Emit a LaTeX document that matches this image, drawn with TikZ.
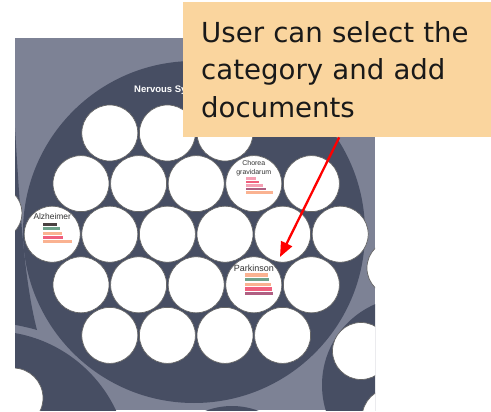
\documentclass[tikz,border=0pt]{standalone}
\usepackage{fontspec}
\usepackage{tikz}
\usetikzlibrary{arrows.meta}
\newfontfamily\notefont{DejaVu Sans}
\newfontfamily\tagfont{Liberation Sans}
\definecolor{panelgray}{RGB}{125,130,149}
\definecolor{pooldark}{RGB}{71,78,99}
\definecolor{notepeach}{RGB}{250,213,158}
\definecolor{notetext}{RGB}{25,25,25}
% bar colours
\definecolor{barbrown}{RGB}{75,65,65}
\definecolor{bargreen}{RGB}{110,162,138}
\definecolor{barpeach}{RGB}{250,178,145}
\definecolor{barrose}{RGB}{240,95,125}
\definecolor{barpink}{RGB}{245,160,180}
\definecolor{barmauve}{RGB}{175,95,130}

\begin{document}
\begin{tikzpicture}[x=1pt, y=-1pt,
    blob/.style={fill=white, draw=black!60, line width=0.7pt},
    bubble/.style={circle, blob, minimum size=56pt, inner sep=0pt},
    tag/.style={font=\tagfont\fontsize{8.4}{9}\selectfont, text=black!80, inner sep=0pt},
    callout/.style={fill=notepeach, text=notetext, align=left, text width=272pt,
      inner xsep=18pt, minimum height=135pt, font=\notefont\fontsize{27.6}{37.5}\selectfont},
    pointer/.style={red, line width=2.3pt, -{Triangle[length=15pt,width=12pt]}}]
\useasboundingbox (0,0) rectangle (491,412);
\fill[panelgray] (15,38) rectangle (375,410);
\begin{scope}
  \clip (15,38) rectangle (375,410);
  \fill[pooldark] (194,232) circle (171pt);
  \fill[pooldark] (10,120) -- (15,128) .. controls (20,210) and (24,280) .. (37,330)
    .. controls (30,328) and (22,326) .. (10,324) -- cycle;
  \fill[pooldark] (-9,469) circle (138pt);
  \fill[pooldark] (410,385) circle (88pt);
  \fill[pooldark] (232,480) circle (74pt);
  \filldraw[blob] (-5,213) circle (27pt);
  \filldraw[blob] (13,398) circle (30pt);
  \filldraw[blob] (361,351) circle (28.5pt);
  \filldraw[blob] (392,418) circle (30pt);
  \filldraw[blob] (395,268) circle (28pt);
\end{scope}

\node[font=\tagfont\bfseries\fontsize{9.5}{11}\selectfont, text=white, anchor=base west, inner sep=0pt] (nervous) at (134,92.5) {Nervous System};

% rows of bubbles
\foreach \x [count=\i] in {109.8,167.4,225} \node[bubble] (a\i) at (\x,133) {};
\foreach \x [count=\i] in {81,138.6,196.2,253.8,311.4} \node[bubble] (b\i) at (\x,183.6) {};
\foreach \x [count=\i] in {52.2,109.8,167.4,225,282.6,340.2} \node[bubble] (c\i) at (\x,234.2) {};
\foreach \x [count=\i] in {81,138.6,196.2,253.8,311.4} \node[bubble] (d\i) at (\x,284.8) {};
\foreach \x [count=\i] in {109.8,167.4,225,282.6} \node[bubble] (e\i) at (\x,335.4) {};

% labelled bubbles
\node[tag] (alz) at ([yshift=18pt]c1.center) {Alzheimer};
\foreach \w/\c [count=\k] in {13.3/barbrown,16.7/bargreen,18.3/barpeach,20/barrose,28.3/barpeach}
  \fill[\c] ([xshift=-9pt,yshift={(15.5-4.3*\k)*1pt}]c1.center) rectangle ++(\w,3);

\node[tag, font=\tagfont\fontsize{7}{9}\selectfont, align=center] (chorea) at ([yshift=15pt]b4.center) {Chorea\\gravidarum};
\foreach \w/\c [count=\k] in {10/barpink,13.3/barrose,17.3/barpink,20/barmauve,27.3/barpeach}
  \fill[\c] ([xshift=-7.8pt,yshift={(9.9-3.5*\k)*1pt}]b4.center) rectangle ++(\w,2.6);

\node[tag, font=\tagfont\fontsize{9}{10}\selectfont] (park) at ([yshift=17pt]d4.center) {Parkinson};
\foreach \w/\c [count=\k] in {22.7/barpeach,24/bargreen,25.7/barpeach,26.7/barrose,28.3/barmauve}
  \fill[\c] ([xshift=-8.8pt,yshift={(16.15-4.7*\k)*1pt}]d4.center) rectangle ++(\w,3.3);

% note and arrow
\node[callout, anchor=north west] (note) at (183,2) {User can select the\\category and add\\documents};
\coordinate (tip) at (280,257);
\draw[pointer] ([xshift=2pt]note.south) -- (tip);
\end{tikzpicture}
\end{document}
